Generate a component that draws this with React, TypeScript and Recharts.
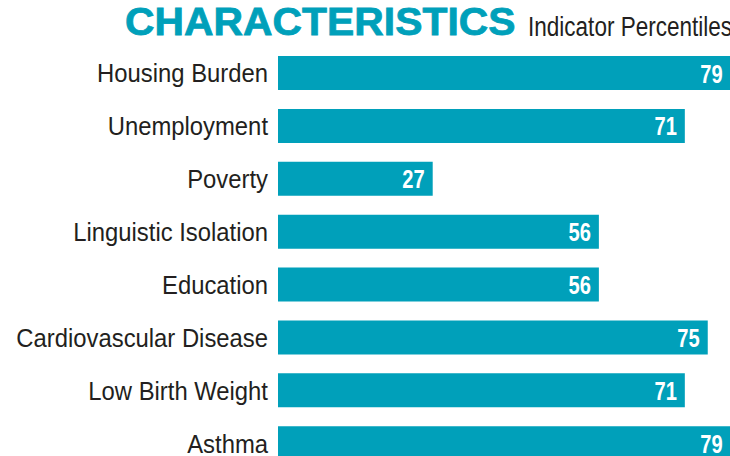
import React from 'react'
import { BarChart, Bar, XAxis, YAxis, LabelList } from 'recharts'

const indicators = [
  'Housing Burden',
  'Unemployment',
  'Poverty',
  'Linguistic Isolation',
  'Education',
  'Cardiovascular Disease',
  'Low Birth Weight',
  'Asthma'
]

const percentiles = [79, 71, 27, 56, 56, 75, 71, 79]

const TEAL = '#00A0BA'
const INK = '#231F20'
const FONT = '"Liberation Sans", Arial, sans-serif'

const data = indicators.map((name, i) => ({ name, value: percentiles[i] }))

const CategoryTick = (props: any) => {
  const { x, y, payload } = props
  return (
    <g transform={`translate(${x},${y})`}>
      <text
        transform="scale(0.9,1)"
        textAnchor="end"
        y={9}
        fill={INK}
        fontSize={26.5}
        fontFamily={FONT}
      >
        {payload.value}
      </text>
    </g>
  )
}

const ValueLabel = (props: any) => {
  const { x, y, width, height, value } = props
  return (
    <g transform={`translate(${x + width - 8},${y + height / 2})`}>
      <text
        transform="scale(0.76,1)"
        textAnchor="end"
        y={9.5}
        fill="#ffffff"
        fontSize={26.5}
        fontWeight="bold"
        fontFamily={FONT}
      >
        {value}
      </text>
    </g>
  )
}

export default function App() {
  return (
    <div
      style={{
        position: 'absolute',
        top: 0,
        left: 0,
        width: 730,
        height: 456,
        overflow: 'hidden',
        background: '#ffffff'
      }}
    >
      {/* title baseline ~y35, subtitle baseline ~y36 */}
      <svg
        width={730}
        height={50}
        style={{ position: 'absolute', top: 0, left: 0 }}
      >
        <g transform="translate(125,35)">
          <text
            transform="scale(1.035,1)"
            fill={TEAL}
            stroke={TEAL}
            strokeWidth={0.8}
            fontWeight="bold"
            fontSize={39.5}
            fontFamily={FONT}
          >
            CHARACTERISTICS
          </text>
        </g>
        <g transform="translate(528,36)">
          <text
            transform="scale(0.82,1)"
            fill={INK}
            fontSize={27.5}
            fontFamily={FONT}
          >
            Indicator Percentiles
          </text>
        </g>
      </svg>
      <BarChart
        layout="vertical"
        width={851}
        height={470}
        data={data}
        margin={{ top: 47, right: 0, bottom: 0, left: 0 }}
        style={{ position: 'absolute', top: 0, left: 0 }}
      >
        <XAxis type="number" domain={[0, 100]} hide />
        <YAxis
          type="category"
          dataKey="name"
          width={278}
          axisLine={false}
          tickLine={false}
          tickMargin={4}
          interval={0}
          tick={<CategoryTick />}
        />
        <Bar dataKey="value" fill={TEAL} barSize={34} isAnimationActive={false}>
          <LabelList dataKey="value" content={<ValueLabel />} />
        </Bar>
      </BarChart>
    </div>
  )
}
